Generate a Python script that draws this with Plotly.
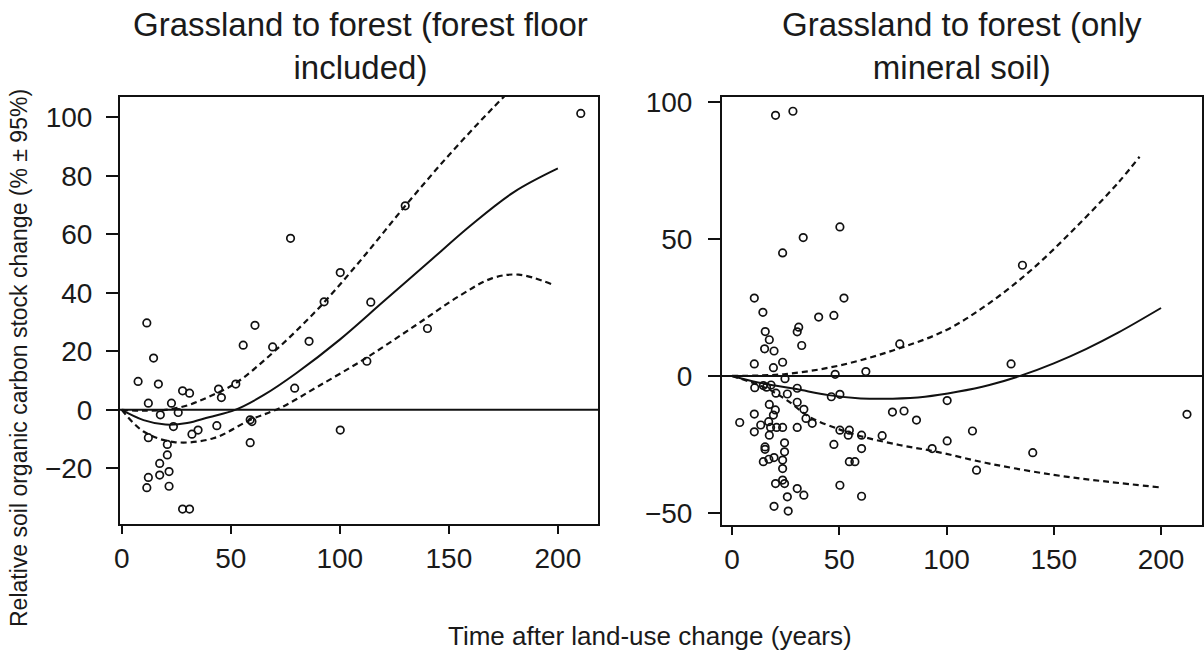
import plotly.graph_objects as go

# ---------------- data: left panel (forest floor included) ----------------
left_pts_x = [11.5, 14.6, 7.5, 16.8, 12.2, 17.7, 12.2, 22.8, 25.9, 23.7, 20.9, 20.9, 17.4, 17.4,
              21.7, 21.7, 12.2, 11.5, 27.9, 31.1, 27.9, 31.1, 32.2, 35.0, 43.6, 44.4, 45.7, 52.3,
              55.7, 61.1, 58.9, 59.7, 58.9, 69.2, 77.4, 79.3, 85.9, 92.8, 100.2, 100.2, 114.2,
              112.4, 130.0, 140.2, 210.5]
left_pts_y = [29.7, 17.7, 9.7, 8.8, 2.3, -1.7, -9.5, 2.3, -0.9, -5.7, -11.8, -15.4, -18.3, -22.3,
              -21.1, -26.1, -23.1, -26.6, -33.9, -33.9, 6.5, 5.7, -8.3, -6.9, -5.4, 7.1, 4.2, 8.8,
              22.1, 28.9, -3.4, -4.0, -11.2, 21.5, 58.6, 7.4, 23.4, 36.9, 46.9, -6.9, 36.8,
              16.6, 69.7, 27.8, 101.3]

left_fit_x = [0, 10, 20, 30, 40, 52, 65, 80, 100, 120, 140, 160, 180, 200]
left_fit_y = [0, -3.5, -5, -4.5, -2.5, 0, 5, 12.5, 24, 37, 50, 63, 74.5, 82.5]

left_up_x = [0, 10, 20, 30, 40, 52, 70, 90, 110, 130, 150, 170, 190]
left_up_y = [0, -0.3, 0, 1.5, 4.5, 9, 20, 34.5, 51.5, 69.7, 87, 103, 118]

left_lo_x = [0, 10, 24, 42, 59, 73, 90, 112, 135, 155, 170, 182, 197]
left_lo_y = [0, -7.4, -11, -9.7, -3.4, 0.8, 8, 17.7, 29, 39, 45, 46.2, 43]

# ---------------- data: right panel (only mineral soil) ----------------
right_pts_x = [20.3, 28.4, 50.3, 33.2, 23.6, 10.4, 52.2, 14.4, 40.4, 47.5, 15.5, 31.1, 30.4, 17.4,
               15.2, 19.6, 32.5, 10.4, 23.6, 19.3, 24.7, 48.1, 62.4, 10.6, 18.2, 14.6, 16.1, 20.5,
               25.8, 30.4, 46.3, 50.3, 17.4, 30.4, 20.2, 33.5, 19.3, 34.5, 37.4, 10.4, 3.6, 13.4,
               17.1, 18.0, 20.8, 23.6, 30.4, 10.4, 17.4, 50.3, 54.7, 54.2, 60.4, 70.0, 47.5, 60.4,
               15.4, 15.4, 24.5, 24.5, 14.6, 17.2, 19.6, 23.6, 23.6, 54.7, 57.3, 20.3, 23.6, 24.5,
               30.4, 33.5, 25.8, 50.3, 60.4, 19.6, 26.2, 78.2, 74.8, 80.2, 86.0, 100.3, 100.3,
               112.1, 93.3, 114.0, 140.2, 130.1, 135.4, 212.1]
right_pts_y = [95.1, 96.6, 54.4, 50.5, 44.9, 28.4, 28.4, 23.2, 21.5, 22.1, 16.2, 17.8, 16.1, 13.2,
               9.9, 9.1, 11.1, 4.4, 5.0, 3.0, -1.0, 0.6, 1.6, -4.3, -3.3, -3.5, -4.1, -6.3,
               -6.6, -4.5, -7.6, -6.7, -10.4, -9.6, -12.4, -12.2, -14.3, -15.5, -17.3, -13.9, -17.0, -17.9,
               -16.7, -18.8, -18.8, -18.8, -18.8, -20.4, -21.6, -19.8, -19.8, -21.6, -21.6, -21.8, -25.0, -26.5,
               -25.9, -26.8, -24.4, -27.7, -31.3, -30.4, -29.8, -30.7, -33.8, -31.3, -31.3, -39.3, -38.0, -39.3,
               -41.1, -43.5, -44.1, -39.9, -43.9, -47.6, -49.3, 11.7, -13.2, -12.8, -16.1, -9.0, -23.7,
               -20.1, -26.5, -34.4, -28.0, 4.4, 40.4, -14.0]

right_fit_x = [0, 10, 20, 30, 45, 60, 75, 90, 105, 120, 135, 150, 165, 180, 200]
right_fit_y = [0, -2, -3.5, -4.8, -7.0, -8.2, -8.3, -7.6, -5.8, -3.3, 0.2, 4.6, 9.8, 15.8, 24.8]

right_up_x = [0, 25, 50, 75, 100, 120, 140, 160, 180, 190]
right_up_y = [0, 0.7, 3.8, 9.3, 16.8, 26.6, 39, 54, 70.5, 80]

right_lo_x = [0, 16, 25.5, 36, 50, 60, 78, 95, 120, 150, 175, 200]
right_lo_y = [0, -4.5, -8.8, -14.9, -19.5, -22, -25.2, -27.6, -32, -36.1, -38.6, -40.7]

x_ticks = [0, 50, 100, 150, 200]
left_y_ticks = [-20, 0, 20, 40, 60, 80, 100]
right_y_ticks = [-50, 0, 50, 100]

title_left = "Grassland to forest (forest floor<br>included)"
title_right = "Grassland to forest (only<br>mineral soil)"
x_title = "Time after land-use change (years)"
y_title = "Relative soil organic carbon stock change (% ± 95%)"

# ---------------- figure ----------------
FONT = "Arial, Liberation Sans, sans-serif"
W, H = 1204, 653
fig = go.Figure()

def add_panel(px, py, fx, fy, ux, uy, lx, ly, xa, ya):
    fig.add_trace(go.Scatter(x=px, y=py, mode="markers", xaxis=xa, yaxis=ya,
                             marker=dict(symbol="circle-open", size=7.5, color="#111",
                                         line=dict(width=1.7, color="#111")),
                             showlegend=False, cliponaxis=True))
    fig.add_trace(go.Scatter(x=fx, y=fy, mode="lines", xaxis=xa, yaxis=ya, line_shape="spline",
                             line=dict(color="#111", width=2), showlegend=False))
    for cx, cy in ((ux, uy), (lx, ly)):
        fig.add_trace(go.Scatter(x=cx, y=cy, mode="lines", xaxis=xa, yaxis=ya, line_shape="spline",
                                 line=dict(color="#111", width=2.2, dash="6px,4px"),
                                 showlegend=False))

add_panel(left_pts_x, left_pts_y, left_fit_x, left_fit_y, left_up_x, left_up_y,
          left_lo_x, left_lo_y, "x", "y")
add_panel(right_pts_x, right_pts_y, right_fit_x, right_fit_y, right_up_x, right_up_y,
          right_lo_x, right_lo_y, "x2", "y2")

def px2x(p):
    return p / W

def px2y(p):
    return (H - p) / H

axis_common = dict(showline=True, linecolor="#111", linewidth=2, mirror=True,
                   ticks="outside", tickcolor="#111", tickwidth=2, showgrid=False,
                   zeroline=False, automargin=False,
                   tickfont=dict(family=FONT, size=28, color="#1a1a1a"))

fig.update_layout(
    width=W, height=H, margin=dict(l=0, r=0, t=0, b=0),
    paper_bgcolor="white", plot_bgcolor="white",
    xaxis=dict(domain=[px2x(120), px2x(598)], range=[-0.8, 218.4], tickvals=x_ticks,
               ticklen=8, anchor="y", **axis_common),
    yaxis=dict(domain=[px2y(524), px2y(96.7)], range=[-39, 107], tickvals=left_y_ticks,
               ticklen=12, anchor="x", ticklabelstandoff=8, **axis_common),
    xaxis2=dict(domain=[px2x(722), px2x(1202)], range=[-4.66, 219.1], tickvals=x_ticks,
                ticklen=8, anchor="y2", **axis_common),
    yaxis2=dict(domain=[px2y(525), px2y(97)], range=[-54.4, 101.8], tickvals=right_y_ticks,
                ticklen=12, anchor="x2", ticklabelstandoff=10, **axis_common),
    shapes=[
        dict(type="line", xref="x domain", yref="y", x0=0, x1=1, y0=0, y1=0,
             line=dict(color="#111", width=2)),
        dict(type="line", xref="x2 domain", yref="y2", x0=0, x1=1, y0=0, y1=0,
             line=dict(color="#111", width=2)),
    ],
    annotations=[
        dict(text=title_left, x=px2x(360), y=px2y(46), xref="paper", yref="paper",
             showarrow=False, xanchor="center", yanchor="middle",
             font=dict(family=FONT, size=33, color="#1a1a1a")),
        dict(text=title_right, x=px2x(962), y=px2y(46), xref="paper", yref="paper",
             showarrow=False, xanchor="center", yanchor="middle",
             font=dict(family=FONT, size=33, color="#1a1a1a")),
        dict(text=x_title, x=px2x(650), y=px2y(636), xref="paper", yref="paper",
             showarrow=False, xanchor="center", yanchor="middle",
             font=dict(family=FONT, size=26, color="#1a1a1a")),
        dict(text=y_title, x=px2x(19), y=px2y(358), xref="paper", yref="paper",
             showarrow=False, xanchor="center", yanchor="middle", textangle=-90,
             font=dict(family=FONT, size=23, color="#1a1a1a")),
    ],
)

fig.write_html("out.html")
